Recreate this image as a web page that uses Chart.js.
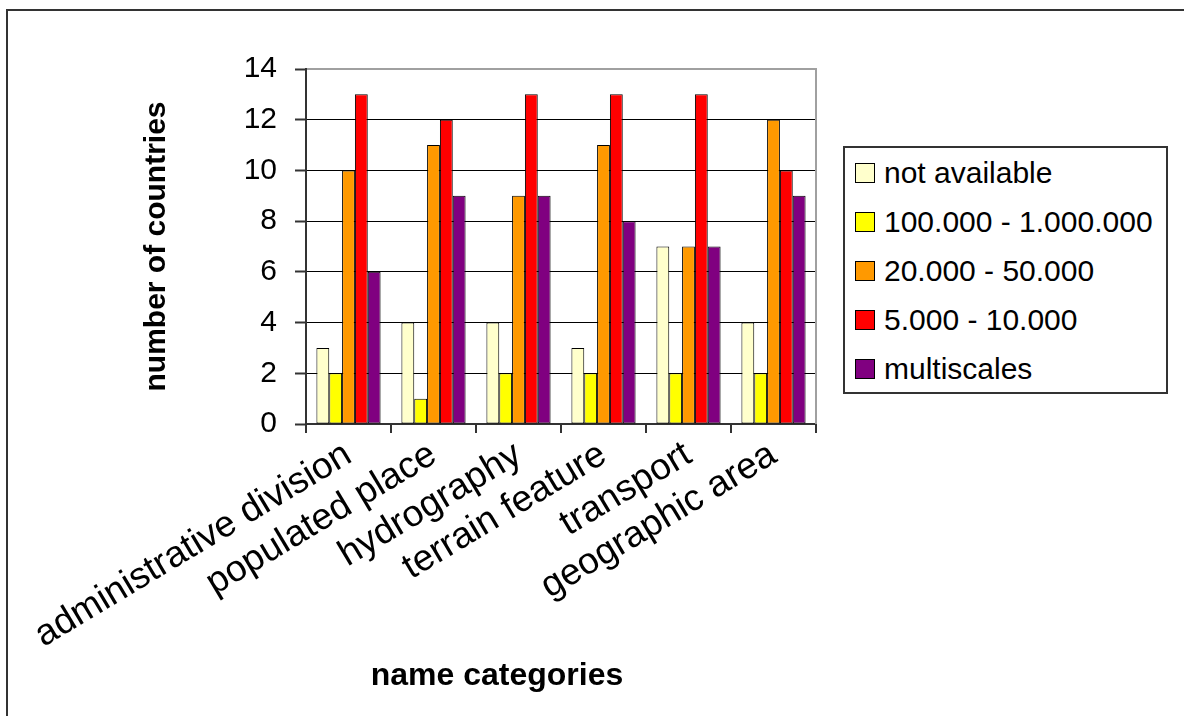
<!DOCTYPE html>
<html>
<head>
<meta charset="utf-8">
<script src="https://cdn.jsdelivr.net/npm/chart.js@4.4.1/dist/chart.umd.min.js"></script>
<style>
  html, body { margin:0; padding:0; background:#fff; }
  #wrap { position:relative; width:1184px; height:716px; background:#fff; overflow:hidden; font-family:'Liberation Sans', Arial, sans-serif; }
  #c { position:absolute; left:0; top:0; }
  #frame { position:absolute; left:6px; top:9px; width:1184px; height:716px; border-top:2px solid #333; border-left:2px solid #333; pointer-events:none; }
  #legend { position:absolute; left:843px; top:146px; width:321px; height:244px; border:2px solid #333; background:#fff; }
  .row { height:49px; display:flex; align-items:center; padding-left:10px; font-size:30px; color:#000; white-space:nowrap; }
  .sw { width:18px; height:18px; border:1px solid #000; margin-right:9px; flex:none; }
  #xtitle { position:absolute; left:0; width:994px; top:656px; line-height:36px; text-align:center; font-weight:bold; font-size:32px; color:#000; }
</style>
</head>
<body>
<div id="wrap">
  <canvas id="c" width="1184" height="716"></canvas>
  <div id="frame"></div>
  <div id="legend"></div>
  <div id="xtitle">name categories</div>
</div>
<script>
// ---- data ----
const categories = ['administrative division', 'populated place', 'hydrography', 'terrain feature', 'transport', 'geographic area'];
const seriesNames = ['not available', '100.000 - 1.000.000', '20.000 - 50.000', '5.000 - 10.000', 'multiscales'];
const notAvailable = [3, 4, 4, 3, 7, 4];
const scale100k1m  = [2, 1, 2, 2, 2, 2];
const scale20k50k  = [10, 11, 9, 11, 7, 12];
const scale5k10k   = [13, 12, 13, 13, 13, 10];
const multiscales  = [6, 9, 9, 8, 7, 9];
const yTicks = [0, 2, 4, 6, 8, 10, 12, 14];
const seriesColors = ['#FFFFCC', '#FFFF00', '#FF9900', '#FF0000', '#800080'];
const yTitle = 'number of countries';

const seriesValues = [notAvailable, scale100k1m, scale20k50k, scale5k10k, multiscales];

Chart.defaults.font.family = "'Liberation Sans', Arial, sans-serif";
Chart.defaults.color = '#000';

const plotFrame = {
  id: 'plotFrame',
  afterDraw(chart) {
    const {ctx, chartArea: a} = chart;
    ctx.save();
    ctx.strokeStyle = '#a0a0a0';
    ctx.lineWidth = 2;
    ctx.beginPath();
    ctx.moveTo(a.left + 1, a.top);
    ctx.lineTo(a.right, a.top);
    ctx.lineTo(a.right, a.bottom);
    ctx.stroke();
    ctx.restore();
  }
};

const chart = new Chart(document.getElementById('c'), {
  type: 'bar',
  data: {
    labels: categories,
    datasets: seriesNames.map((name, i) => ({
      label: name,
      data: seriesValues[i],
      backgroundColor: seriesColors[i],
      borderColor: '#000',
      borderWidth: 1,
      borderSkipped: false,
      categoryPercentage: 0.755,
      barPercentage: 1.0
    }))
  },
  options: {
    responsive: false,
    animation: false,
    layout: { padding: { left: 130, top: 69, right: 368, bottom: 0 } },
    plugins: { legend: { display: false }, tooltip: { enabled: false } },
    scales: {
      x: {
        grid: { offset: true, drawOnChartArea: false, drawTicks: true, tickLength: 9, color: '#333', lineWidth: 2 },
        border: { color: '#333', width: 2 },
        ticks: { autoSkip: false, minRotation: 31, maxRotation: 31, font: { size: 37 }, color: '#000', padding: 0 },
        afterFit(s) { s.height = 716 - 424; }
      },
      y: {
        min: yTicks[0],
        max: yTicks[yTicks.length - 1],
        ticks: { stepSize: yTicks[1] - yTicks[0], font: { size: 30 }, padding: 18, color: '#000' },
        grid: { color: '#000', lineWidth: 1, tickLength: 11, tickColor: '#333', tickWidth: 2 },
        border: { color: '#333', width: 2 },
        title: { display: true, text: yTitle, font: { size: 30, weight: 'bold' }, color: '#000', padding: { top: 9, bottom: 0 } },
        afterFit(s) { s.width = 176; }
      }
    }
  },
  plugins: [plotFrame]
});

// HTML legend built from the series
const legendEl = document.getElementById('legend');
seriesNames.forEach((name, i) => {
  const row = document.createElement('div');
  row.className = 'row';
  const sw = document.createElement('span');
  sw.className = 'sw';
  sw.style.background = seriesColors[i];
  const t = document.createElement('span');
  t.textContent = name;
  row.appendChild(sw);
  row.appendChild(t);
  legendEl.appendChild(row);
});
</script>
</body>
</html>
